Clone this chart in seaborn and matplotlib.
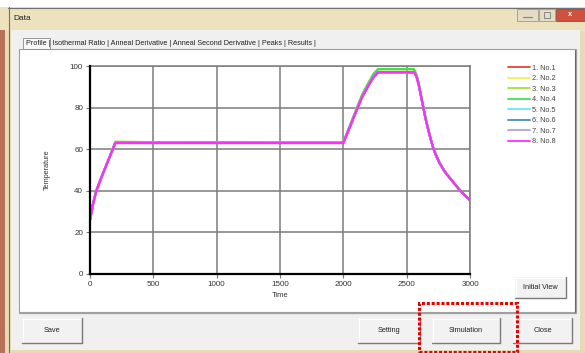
import matplotlib
matplotlib.use("Agg")
import matplotlib.pyplot as plt
import seaborn as sns
import pandas as pd
from matplotlib.patches import Rectangle
from matplotlib.lines import Line2D

# ---------------- data ----------------
series_names = ["1. No.1", "2. No.2", "3. No.3", "4. No.4", "5. No.5", "6. No.6", "7. No.7", "8. No.8"]
series_colors = ["#e8403a", "#f4f050", "#a8e040", "#40e050", "#70e4f0", "#4a88b8", "#a8a8d8", "#ff2cff"]

time = [0, 25, 50, 100, 150, 200, 700, 2000, 2050, 2100, 2150, 2200, 2240, 2275,
        2555, 2565, 2580, 2595, 2610, 2630, 2650, 2670, 2690, 2710, 2735, 2760,
        2800, 2840, 2880, 2920, 2960, 3000]
temp_base = [26, 34, 40, 48, 55.5, 63, 63, 63, 70.5, 78, 85.3, 90.8, 94.8, 97,
             97, 96.5, 94.5, 91, 86.5, 80.5, 74.5, 69.5, 64.8, 60.5, 56.6, 53.3,
             49.3, 46.2, 43.2, 40.3, 37.8, 35.5]
temp_high = [26, 34, 40, 48, 55.5, 63.5, 63.3, 63.2, 71, 78.8, 86.3, 92, 96.3, 98.5,
             98.5, 97.5, 95.2, 91.5, 86.8, 80.7, 74.6, 69.5, 64.8, 60.5, 56.6, 53.3,
             49.3, 46.2, 43.2, 40.3, 37.8, 35.5]
series_temps = [temp_base, temp_high, temp_high, temp_high, temp_base, temp_base, temp_base, temp_base]

x_ticks = [0, 500, 1000, 1500, 2000, 2500, 3000]
y_ticks = [0, 20, 40, 60, 80, 100]
tab_labels = "Profile | Isothermal Ratio | Anneal Derivative | Anneal Second Derivative | Peaks | Results |"

rows = []
for name, temps in zip(series_names, series_temps):
    for t, v in zip(time, temps):
        rows.append({"Time": t, "Temperature": v, "Series": name})
df = pd.DataFrame(rows)

# ---------------- figure ----------------
W, H = 585, 353
sns.set_style("white")
plt.rcParams["font.family"] = ["Liberation Sans", "DejaVu Sans"]
fig = plt.figure(figsize=(W / 100, H / 100), dpi=100)
fig.patch.set_facecolor("white")


def rect(x, y, w, h, z=-10, **kw):
    r = Rectangle((x / W, 1 - (y + h) / H), w / W, h / H, transform=fig.transFigure, zorder=z, **kw)
    fig.add_artist(r)
    return r


def hline(x0, x1, y, color, lw=1, z=-5, ls="-"):
    fig.add_artist(Line2D([x0 / W, x1 / W], [1 - y / H, 1 - y / H], transform=fig.transFigure,
                          color=color, lw=lw, zorder=z, ls=ls))


def vline(x, y0, y1, color, lw=1, z=-5, ls="-"):
    fig.add_artist(Line2D([x / W, x / W], [1 - y0 / H, 1 - y1 / H], transform=fig.transFigure,
                          color=color, lw=lw, zorder=z, ls=ls))


def ftext(x, y, s, size=5.5, **kw):
    fig.text(x / W, 1 - y / H, s, fontsize=size, **kw)


# window frame
rect(0, 7, 585, 346, z=-20, facecolor="#e6dbb4", edgecolor="none")
rect(0, 7, 585, 24, z=-19, facecolor="#ece2bd", edgecolor="none")
rect(0, 30, 5, 323, z=-19, facecolor="#b8705a", edgecolor="none")
hline(8, 585, 7.5, "#707070", lw=0.8, z=-18)
vline(8.5, 7, 353, "#707070", lw=0.8, z=-18)
ftext(13, 18.5, "Data", size=6, va="center", color="#222222")
# title buttons
rect(517, 9, 21, 12, z=-15, facecolor="#e4dcc4", edgecolor="#9a9a9a", lw=0.6)
rect(539, 9, 16, 12, z=-15, facecolor="#e4dcc4", edgecolor="#9a9a9a", lw=0.6)
rect(556, 9, 29, 12, z=-15, facecolor="#d0503e", edgecolor="#9a4a3a", lw=0.6)
hline(523, 532, 17, "#888888", lw=0.9, z=-14)
rect(544, 12.5, 6, 5, z=-14, facecolor="none", edgecolor="#888888", lw=0.7)
ftext(570, 15, "x", size=5.5, ha="center", va="center", color="white", weight="bold")

# client area
rect(11, 30, 569, 320, z=-17, facecolor="#f0f0f0", edgecolor="none")
# tabs
rect(23, 38.5, 27, 10, z=-12, facecolor="#f8f8f8", edgecolor="#8a8a8a", lw=0.6)
ftext(26, 43.5, tab_labels, size=5.2, va="center", color="#222222")
# chart panel
rect(19, 49, 557, 263, z=-16, facecolor="white", edgecolor="#a0a0a0", lw=0.8)
vline(575, 50, 312, "#6a6a6a", lw=0.8, z=-15)
hline(19, 576, 312.5, "#a0a0a0", lw=0.9, z=-15)


def button(x, y, w, h, label):
    rect(x, y, w, h, z=-9, facecolor="#f2f2f2", edgecolor="none")
    hline(x, x + w, y + 0.5, "#ffffff", lw=0.8, z=-8)
    vline(x + 0.5, y, y + h, "#ffffff", lw=0.8, z=-8)
    hline(x, x + w, y + h, "#7a7a7a", lw=1.0, z=-8)
    vline(x + w, y, y + h, "#7a7a7a", lw=1.0, z=-8)
    ftext(x + w / 2, y + h / 2, label, size=5.3, ha="center", va="center", color="#222222")


button(515, 277, 51, 21, "Initial View")
button(22, 318, 60, 25, "Save")
button(358, 318, 62, 25, "Setting")
button(432, 318, 68, 25, "Simulation")
button(513, 318, 59, 25, "Close")

# red dotted highlight
rect(418.5, 302.5, 98, 49, z=20, facecolor="none", edgecolor="#e80000", lw=2.2, ls=(0, (1, 0.6)))

# ---------------- chart ----------------
ax = fig.add_axes([90 / W, 1 - 274 / H, (470 - 90) / W, (274 - 66) / H])
ax.set_facecolor("white")
sns.lineplot(data=df, x="Time", y="Temperature", hue="Series", palette=series_colors,
             hue_order=series_names, ax=ax, linewidth=1.6, legend=True, estimator=None, sort=False)

ax.set_xlim(0, 3000)
ax.set_ylim(0, 100)
ax.set_xticks(x_ticks)
ax.set_yticks(y_ticks)
ax.grid(True, color="#7c7c7c", lw=1.1)
ax.set_axisbelow(True)
for s in ["top", "right"]:
    ax.spines[s].set_color("#7c7c7c")
    ax.spines[s].set_linewidth(1.1)
for s in ["left", "bottom"]:
    ax.spines[s].set_color("black")
    ax.spines[s].set_linewidth(1.6)
    ax.spines[s].set_zorder(5)
ax.tick_params(axis="both", which="both", direction="out", length=3, width=0.8, color="#777777",
               labelsize=5.8, labelcolor="#333333", pad=2, left=True, bottom=True)
ax.set_xlabel("Time", fontsize=5.5, color="#333333", labelpad=3)
ax.set_ylabel("Temperature", fontsize=5.2, color="#333333", labelpad=14)

leg = ax.legend(loc="upper left", bbox_to_anchor=(504 / W, 1 - 61 / H), bbox_transform=fig.transFigure,
                frameon=False, fontsize=5.3, handlelength=3.0, handletextpad=0.3, labelspacing=0.45,
                borderpad=0)
for line in leg.get_lines():
    line.set_linewidth(1.3)
for t in leg.get_texts():
    t.set_color("#444444")

fig.savefig("out.png", dpi=100)
